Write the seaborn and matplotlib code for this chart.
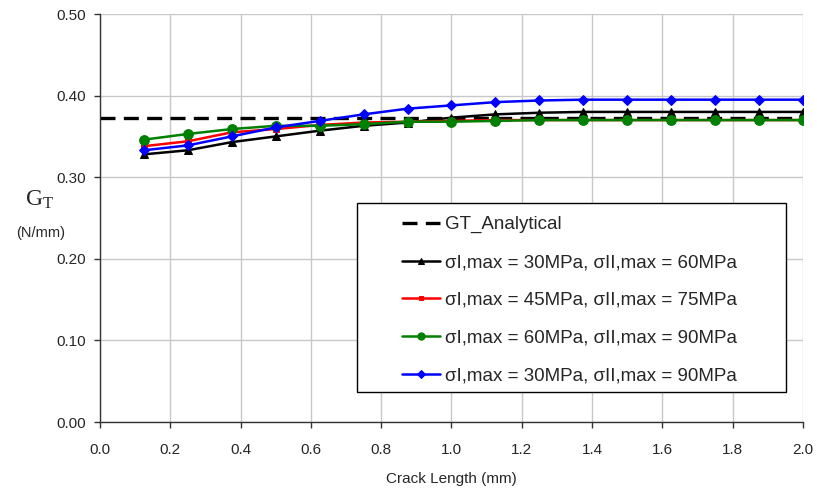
import matplotlib
matplotlib.use("Agg")
import matplotlib.pyplot as plt
from matplotlib.patches import Rectangle
import numpy as np
import pandas as pd
import seaborn as sns

crack_length = [0.125, 0.25, 0.375, 0.5, 0.625, 0.75, 0.875, 1.0,
                1.125, 1.25, 1.375, 1.5, 1.625, 1.75, 1.875, 2.0]

gt_analytical = 0.373

g_30_60 = [0.328, 0.333, 0.343, 0.350, 0.357, 0.363, 0.367, 0.373,
           0.377, 0.379, 0.380, 0.380, 0.380, 0.380, 0.380, 0.380]
g_45_75 = [0.338, 0.344, 0.355, 0.359, 0.364, 0.367, 0.368, 0.369,
           0.370, 0.370, 0.370, 0.370, 0.370, 0.370, 0.370, 0.370]
g_60_90 = [0.346, 0.353, 0.359, 0.363, 0.363, 0.365, 0.368, 0.368,
           0.369, 0.370, 0.370, 0.370, 0.370, 0.370, 0.370, 0.370]
g_30_90 = [0.333, 0.339, 0.350, 0.361, 0.369, 0.377, 0.384, 0.388,
           0.392, 0.394, 0.395, 0.395, 0.395, 0.395, 0.395, 0.395]

series_labels = [
    "σI,max = 30MPa, σII,max = 60MPa",
    "σI,max = 45MPa, σII,max = 75MPa",
    "σI,max = 60MPa, σII,max = 90MPa",
    "σI,max = 30MPa, σII,max = 90MPa",
]

sns.set_style("whitegrid")
plt.rcParams["font.family"] = ["Liberation Sans", "DejaVu Sans"]

W, H = 817, 491
fig = plt.figure(figsize=(W / 100, H / 100), dpi=100)
ax = fig.add_axes([100 / W, 1 - 422 / H, 703 / W, 408 / H])

ax.plot([0, 2.0], [gt_analytical, gt_analytical], color="black",
        linestyle=(0, (4.5, 2.5)), linewidth=2.4, label="GT_Analytical")

styles = [
    (g_30_60, "black", "^", 6),
    (g_45_75, "red", "s", 4.5),
    (g_60_90, "green", "o", 7),
    (g_30_90, "blue", "D", 5),
]
for (vals, color, marker, ms), label in zip(styles, series_labels):
    df = pd.DataFrame({"x": crack_length, "y": vals})
    sns.lineplot(data=df, x="x", y="y", color=color, marker=marker,
                 markersize=ms, markeredgecolor=color, linewidth=1.8,
                 label=label, ax=ax)

ax.set_xlim(0, 2.0)
ax.set_ylim(0, 0.5)
xt = np.arange(0, 2.01, 0.2)
yt = np.arange(0, 0.51, 0.1)
ax.set_xticks(xt)
ax.set_yticks(yt)
ax.set_xticklabels([f"{v:.1f}" for v in xt], fontsize=11)
ax.set_yticklabels([f"{v:.2f}" for v in yt], fontsize=11)
ax.grid(True, color="#c8c8c8", linewidth=1.0)

for s in ["top", "right"]:
    ax.spines[s].set_visible(False)
for s in ["left", "bottom"]:
    ax.spines[s].set_color("#333333")
    ax.spines[s].set_linewidth(1.0)
ax.tick_params(axis="both", direction="out", length=4, width=1,
               color="#333333", bottom=True, left=True)
ax.tick_params(axis="y", pad=6)
ax.tick_params(axis="x", pad=11)

ax.set_xlabel("Crack Length (mm)", fontsize=11, labelpad=11)
ax.set_ylabel("")
fig.text(40 / W, 1 - 200 / H, r"$\mathregular{G_T}$", fontsize=17,
         family="Liberation Serif", ha="center", va="center")
fig.text(41 / W, 1 - 233 / H, "(N/mm)", fontsize=10.5, ha="center", va="center")

# legend box drawn separately so the wide left margin matches
box = Rectangle((357 / W, 1 - 392 / H), 429 / W, 189 / H,
                transform=fig.transFigure, facecolor="white",
                edgecolor="black", linewidth=1.0, zorder=8, clip_on=False)
ax.add_patch(box)
leg = ax.legend(loc="upper left", bbox_to_anchor=(402 / W, 1 - 216 / H),
                bbox_transform=fig.transFigure, fontsize=13.5, frameon=False,
                borderpad=0, labelspacing=1.1, handlelength=2.0,
                handletextpad=0.28, borderaxespad=0, markerscale=0.75)
leg.set_zorder(9)

fig.savefig("out.png", dpi=100)
